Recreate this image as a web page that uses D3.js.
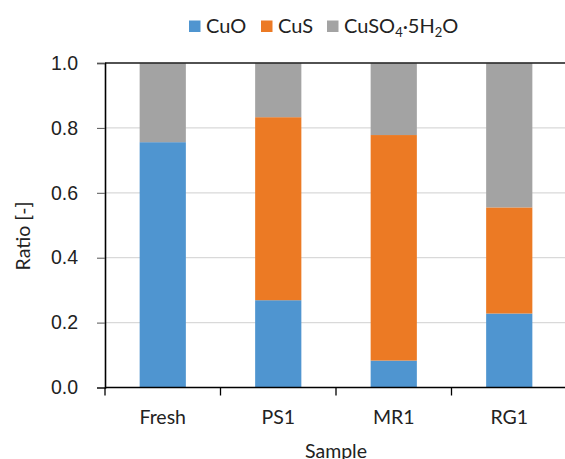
<!DOCTYPE html>
<html>
<head>
<meta charset="utf-8">
<script src="https://cdn.jsdelivr.net/npm/d3@7"></script>
<style>
  body { margin: 0; background: #fff; }
  svg { font-family: Lato, 'Open Sans', sans-serif; }
  .axis text { fill: #222; }
</style>
</head>
<body>
<svg id="chart" width="565" height="459"></svg>
<script>
const samples = ['Fresh', 'PS1', 'MR1', 'RG1']
const cuo = [0.756, 0.269, 0.083, 0.228]
const cus = [0.0, 0.564, 0.695, 0.327]
const cuso4 = [0.244, 0.167, 0.222, 0.445]
const yTicks = [0.0, 0.2, 0.4, 0.6, 0.8, 1.0]
const seriesKeys = ['CuO', 'CuS', 'CuSO4']
const colors = ['#4f95d0', '#ec7a24', '#a3a3a3']

const margin = { top: 63, left: 105, bottom: 71.5, right: -2 }
const svg = d3.select('#chart')
const width = +svg.attr('width') - margin.left - margin.right
const height = +svg.attr('height') - margin.top - margin.bottom
const fontSize = 19.5

const rows = samples.map((s, i) => ({ sample: s, CuO: cuo[i], CuS: cus[i], CuSO4: cuso4[i] }))
const stacked = d3.stack().keys(seriesKeys)(rows)

const x = d3.scaleBand().domain(samples).range([0, width]).paddingInner(0.6).paddingOuter(0.3)
const xTick = d3.scaleBand().domain(samples).range([0, width])
const y = d3.scaleLinear().domain([0, 1]).range([height, 0])

const g = svg.append('g').attr('transform', `translate(${margin.left},${margin.top})`)

// gridlines
g.append('g').selectAll('line').data(yTicks.slice(1)).join('line')
  .attr('x1', 0).attr('x2', width)
  .attr('y1', d => y(d)).attr('y2', d => y(d))
  .attr('stroke', '#d9d9d9').attr('stroke-width', 1.3)

// bars
g.append('g').selectAll('g').data(stacked).join('g')
  .attr('fill', (d, i) => colors[i])
  .selectAll('rect').data(d => d).join('rect')
  .attr('x', d => x(d.data.sample))
  .attr('width', x.bandwidth())
  .attr('y', d => y(d[1]))
  .attr('height', d => y(d[0]) - y(d[1]))

// top border
g.append('line').attr('x1', 0).attr('x2', width).attr('y1', y(1)).attr('y2', y(1))
  .attr('stroke', '#222').attr('stroke-width', 1.5)

// y axis
const yAxis = g.append('g').classed('axis', true)
  .call(d3.axisLeft(y).tickValues(yTicks).tickFormat(d3.format('.1f')).tickSize(8).tickPadding(19))
yAxis.select('.domain').attr('stroke', '#000').attr('stroke-width', 1.6)
yAxis.selectAll('.tick line').attr('stroke', '#555')
yAxis.selectAll('text').attr('font-size', fontSize)

// x axis with ticks at band boundaries
const xAxis = g.append('g').classed('axis', true).attr('transform', `translate(0,${height})`)
xAxis.append('line').attr('x1', 0).attr('x2', width).attr('stroke', '#000').attr('stroke-width', 1.6)
xAxis.selectAll('.tk').data(samples).join('line').classed('tk', true)
  .attr('x1', d => xTick(d)).attr('x2', d => xTick(d))
  .attr('y1', 0).attr('y2', 8).attr('stroke', '#000').attr('stroke-width', 1.3)
xAxis.selectAll('text').data(samples).join('text')
  .attr('x', d => xTick(d) + xTick.bandwidth() / 2)
  .attr('y', 36)
  .attr('text-anchor', 'middle')
  .attr('font-size', fontSize)
  .text(d => d)

// axis titles
svg.append('text').attr('transform', 'translate(30,236) rotate(-90)')
  .attr('text-anchor', 'middle').attr('font-size', fontSize).attr('fill', '#222').text('Ratio [-]')
svg.append('text').attr('x', 336).attr('y', 458)
  .attr('text-anchor', 'middle').attr('font-size', fontSize).attr('fill', '#222').text('Sample')

// legend
const legendX = [189, 261, 327]
const legend = svg.append('g')
seriesKeys.forEach((k, i) => {
  legend.append('rect').attr('x', legendX[i]).attr('y', 20.5).attr('width', 11.5).attr('height', 11.5).attr('fill', colors[i])
})
legend.append('text').attr('x', 206).attr('y', 33).attr('font-size', 20).attr('fill', '#222').text('CuO')
legend.append('text').attr('x', 278).attr('y', 33).attr('font-size', 20).attr('fill', '#222').text('CuS')
const chem = legend.append('text').attr('x', 344).attr('y', 33).attr('font-size', 20).attr('fill', '#222')
chem.append('tspan').text('CuSO')
chem.append('tspan').attr('font-size', 13).attr('dy', 4).text('4')
chem.append('tspan').attr('dy', -4).text('\u00b75H')
chem.append('tspan').attr('font-size', 13).attr('dy', 4).text('2')
chem.append('tspan').attr('dy', -4).text('O')
</script>
</body>
</html>
